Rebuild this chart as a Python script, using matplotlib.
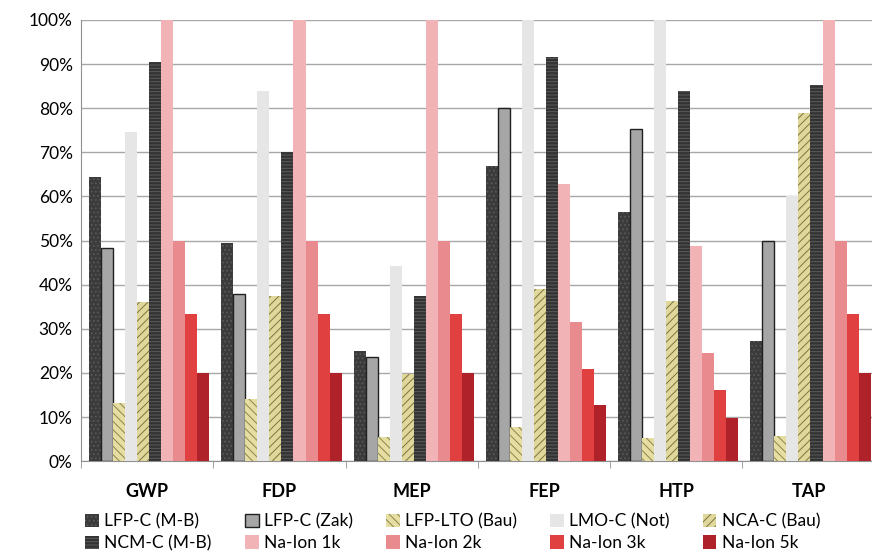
import numpy as np
import matplotlib
matplotlib.use("Agg")
import matplotlib.pyplot as plt
from matplotlib.ticker import FuncFormatter, FixedLocator

plt.rcParams['font.family'] = ['Lato', 'DejaVu Sans']
plt.rcParams['hatch.linewidth'] = 0.7

# impact categories
categories = ["GWP", "FDP", "MEP", "FEP", "HTP", "TAP"]

# relative impact per battery (percent)
lfp_c_mb = [64.5, 49.5, 25.0, 67.0, 56.5, 27.3]
lfp_c_zak = [48.4, 38.0, 23.7, 80.0, 75.2, 50.0]
lfp_lto_bau = [13.3, 14.0, 5.5, 7.7, 5.3, 5.8]
lmo_c_not = [74.7, 84.0, 44.2, 100.0, 100.0, 60.0]
nca_c_bau = [36.1, 37.5, 19.8, 39.0, 36.3, 79.0]
ncm_c_mb = [90.5, 70.0, 37.5, 91.5, 84.0, 85.3]
na_1k = [100.0, 100.0, 100.0, 62.8, 48.8, 100.0]
na_2k = [50.0, 50.0, 50.0, 31.5, 24.5, 50.0]
na_3k = [33.3, 33.3, 33.3, 21.0, 16.2, 33.3]
na_5k = [20.0, 20.0, 20.0, 12.7, 9.8, 20.0]

series = [
    ("LFP-C (M-B)", lfp_c_mb, "#3b3b3b", "#5a5a5a", "...."),
    ("LFP-C (Zak)", lfp_c_zak, "#a6a6a6", "#202020", None),
    ("LFP-LTO (Bau)", lfp_lto_bau, "#e6dea0", "#8c8450", "\\\\\\\\"),
    ("LMO-C (Not)", lmo_c_not, "#e6e6e6", "#e6e6e6", None),
    ("NCA-C (Bau)", nca_c_bau, "#e0d89a", "#7c7440", "////"),
    ("NCM-C (M-B)", ncm_c_mb, "#333333", "#5c5c5c", "-----"),
    ("Na-Ion 1k", na_1k, "#f2b3b6", "#f2b3b6", None),
    ("Na-Ion 2k", na_2k, "#e88a8e", "#e88a8e", None),
    ("Na-Ion 3k", na_3k, "#e0403f", "#e0403f", None),
    ("Na-Ion 5k", na_5k, "#b0222a", "#b0222a", None),
]

fig = plt.figure(figsize=(8.72, 5.53), dpi=100)
ax = fig.add_axes([0.093, 0.166, 0.91, 0.798])

x = np.arange(len(categories))
n = len(series)
w = 0.091
for i, (name, vals, fc, ec, hatch) in enumerate(series):
    off = (i - (n - 1) / 2) * w + 0.015
    lw = 1.0 if name == "LFP-C (Zak)" else 0.0
    ax.bar(x + off, vals, w, color=fc, edgecolor=ec, hatch=hatch,
           linewidth=lw, label=name, zorder=3)

ax.set_ylim(0, 100)
ax.set_xlim(-0.5, len(categories) - 0.5)
ax.set_yticks(np.arange(0, 101, 10))
ax.yaxis.set_major_formatter(FuncFormatter(lambda v, p: f"{int(v)}%"))
ax.yaxis.grid(True, color="#a8a8a8", linewidth=1.0, zorder=0)
ax.set_axisbelow(True)

ax.set_xticks(x)
ax.set_xticklabels(categories, fontsize=13, fontweight="bold")
ax.tick_params(axis="x", which="major", length=0, pad=16)
ax.xaxis.set_minor_locator(FixedLocator(np.arange(-0.5, len(categories), 1.0)))
ax.tick_params(axis="x", which="minor", length=5, color="#909090")
ax.tick_params(axis="y", length=0, labelsize=12.5, pad=6)

for s in ["top", "right"]:
    ax.spines[s].set_visible(False)
ax.spines["left"].set_color("#909090")
ax.spines["bottom"].set_color("#909090")

# legend filled row by row (5 per row)
handles, labels = ax.get_legend_handles_labels()
order = [0, 5, 1, 6, 2, 7, 3, 8, 4, 9]
fig.legend([handles[k] for k in order], [labels[k] for k in order],
           loc="lower left", bbox_to_anchor=(0.08, -0.025),
           ncol=5, frameon=False, fontsize=12.5, handlelength=0.8,
           handleheight=0.8, handletextpad=0.3, columnspacing=1.9,
           labelspacing=0.3)

fig.savefig("out.png", dpi=100)
